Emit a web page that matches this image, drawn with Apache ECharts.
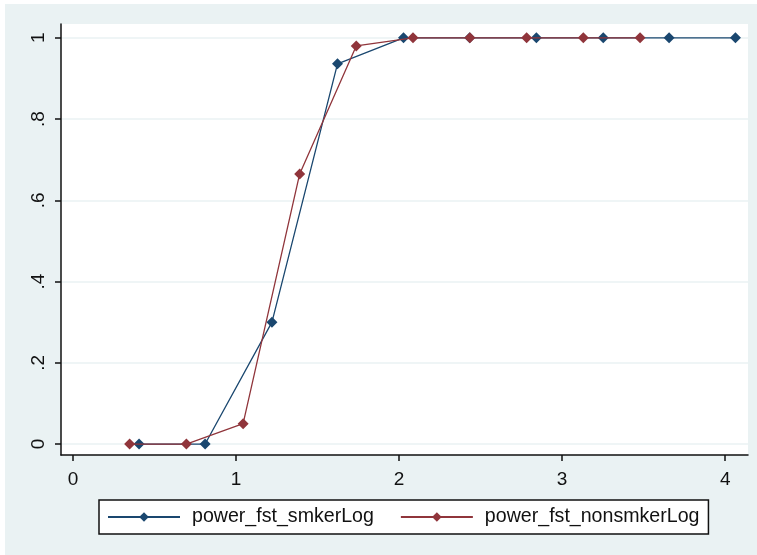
<!DOCTYPE html>
<html>
<head>
<meta charset="utf-8">
<script src="https://cdn.jsdelivr.net/npm/echarts@6/dist/echarts.min.js"></script>
<style>
html,body{margin:0;padding:0;background:#ffffff;}
#chart{position:absolute;left:5px;top:4px;width:752px;height:551px;}
</style>
</head>
<body>
<div id="chart"></div>
<script>
// Data
const smkerX = [0.405, 0.81, 1.22, 1.622, 2.027, 2.433, 2.842, 3.252, 3.656, 4.063];
const smkerY = [0, 0, 0.3, 0.936, 1, 1, 1, 1, 1, 1];
const nonsmkerX = [0.347, 0.695, 1.043, 1.39, 1.737, 2.085, 2.434, 2.782, 3.13, 3.478];
const nonsmkerY = [0, 0, 0.05, 0.665, 0.98, 1, 1, 1, 1, 1];
const seriesNames = ['power_fst_smkerLog', 'power_fst_nonsmkerLog'];
const xTicks = [0, 1, 2, 3, 4];
const xTickLabels = ['0', '1', '2', '3', '4'];
const yTicks = [0, 0.2, 0.4, 0.6, 0.8, 1];
const yTickLabels = ['0', '.2', '.4', '.6', '.8', '1'];

const BLUE = '#1a476f';
const RED = '#90353b';
const BG = '#eaf2f3';
const FONT = '"Liberation Sans", Arial, sans-serif';

function pairs(xs, ys) { return xs.map((x, i) => [x, ys[i]]); }

const chart = echarts.init(document.getElementById('chart'), null, {renderer: 'canvas'});
chart.setOption({
  backgroundColor: BG,
  animation: false,
  textStyle: {fontFamily: FONT},
  grid: {
    left: 56, top: 20, right: 9, bottom: 100,
    show: true, backgroundColor: '#ffffff', borderWidth: 0,
    containLabel: false
  },
  xAxis: {
    type: 'value', min: -0.074, max: 4.14,
    axisLine: {show: true, onZero: false, lineStyle: {color: '#111', width: 1.5}},
    axisTick: {show: true, length: 6, customValues: xTicks, lineStyle: {color: '#111', width: 1.5}},
    axisLabel: {
      customValues: xTicks, margin: 15, color: '#111', fontSize: 19, fontFamily: FONT,
      formatter: v => xTickLabels[xTicks.indexOf(Math.round(v * 1000) / 1000)] ?? ''
    },
    splitLine: {show: false}
  },
  yAxis: {
    type: 'value', min: -0.027, max: 1.034,
    axisLine: {show: true, onZero: false, lineStyle: {color: '#111', width: 1.5}},
    axisTick: {show: true, length: 6, customValues: yTicks, lineStyle: {color: '#111', width: 1.5}},
    axisLabel: {
      customValues: yTicks, rotate: 90, margin: 13, color: '#111', fontSize: 19, fontFamily: FONT,
      formatter: v => yTickLabels[yTicks.indexOf(Math.round(v * 1000) / 1000)] ?? ''
    },
    splitLine: {show: true, lineStyle: {color: BG, width: 1.5}}
  },
  legend: {
    show: true,
    left: 94, top: 496,
    orient: 'horizontal',
    backgroundColor: '#ffffff',
    borderColor: '#111', borderWidth: 1.5, borderRadius: 0,
    padding: [7, 9, 7, 8],
    itemWidth: 72, itemHeight: 12, itemGap: 26,
    textStyle: {fontSize: 19.6, color: '#111', fontFamily: FONT, padding: [0, 0, 0, 7]},
    data: seriesNames
  },
  series: [
    {
      name: seriesNames[0], type: 'line',
      data: pairs(smkerX, smkerY),
      symbol: 'diamond', symbolSize: 11, showAllSymbol: true,
      lineStyle: {color: BLUE, width: 1.3},
      itemStyle: {color: BLUE},
      z: 2
    },
    {
      name: seriesNames[1], type: 'line',
      data: pairs(nonsmkerX, nonsmkerY),
      symbol: 'diamond', symbolSize: 11, showAllSymbol: true,
      lineStyle: {color: RED, width: 1.3},
      itemStyle: {color: RED},
      z: 3
    }
  ]
});
</script>
</body>
</html>
